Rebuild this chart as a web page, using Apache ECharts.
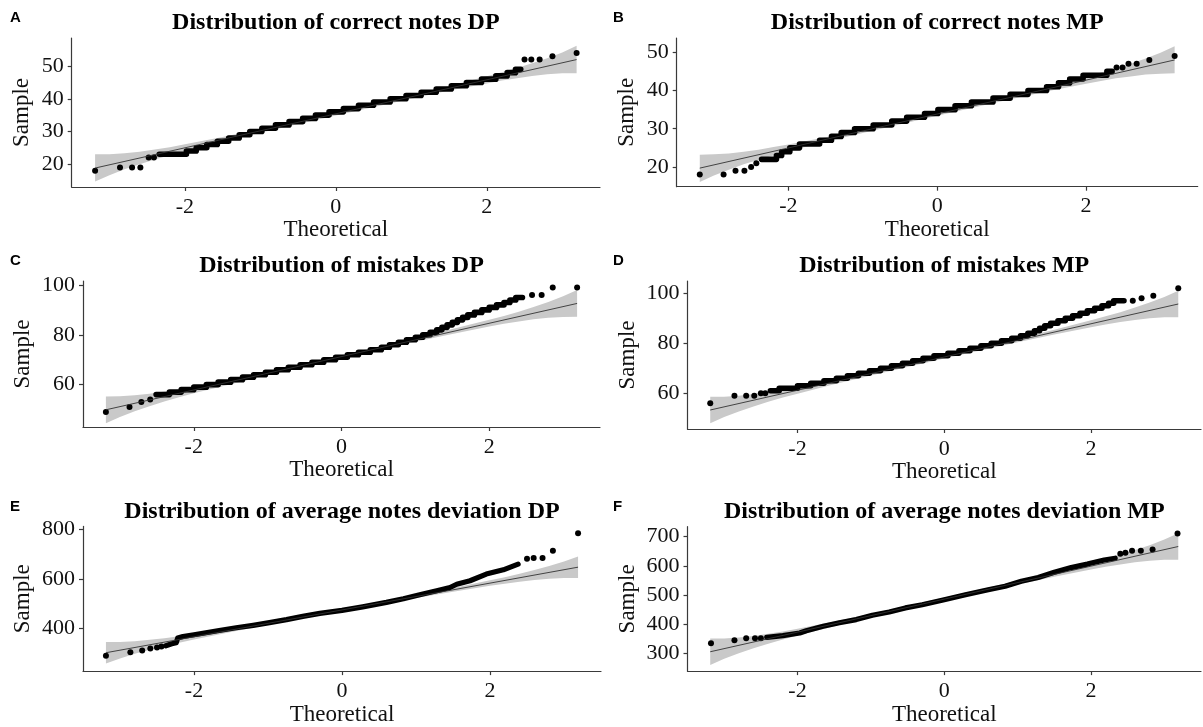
<!DOCTYPE html>
<html>
<head>
<meta charset="utf-8">
<title>Normal QQ plots</title>
<script src="https://cdn.jsdelivr.net/npm/echarts@6/dist/echarts.min.js"></script>
<style>
  html, body { margin: 0; padding: 0; background: #fff; }
  #chart { width: 1203px; height: 727px; }
</style>
</head>
<body>
<div id="chart"></div>
<script>
// ---------- data ----------
const xTicks = [-2, 0, 2];
const lineT = [-3.19, 3.19];
const bandT = [-3.19, -3.0, -2.8, -2.6, -2.4, -2.2, -2.0, -1.5, -1.0, 0, 1.0, 1.5, 2.0, 2.2, 2.4, 2.6, 2.8, 3.0, 3.19];

// A - correct notes DP
const ticksA = [20, 30, 40, 50];
const lineA = [18.8, 52.0];
const loA = [14.7, 16.6, 18.4, 20.0, 21.4, 22.7, 23.9, 26.9, 29.6, 34.9, 40.0, 42.5, 44.7, 45.6, 46.3, 47.0, 47.5, 47.8, 47.8];
const hiA = [23.0, 23.0, 23.3, 23.8, 24.5, 25.2, 26.1, 28.3, 30.8, 35.9, 41.2, 43.9, 46.9, 48.1, 49.4, 50.9, 52.4, 54.2, 56.2];
const stepsA = [[-2.34, 23], [-1.98, 24], [-1.85, 25], [-1.71, 26], [-1.57, 27], [-1.42, 28], [-1.28, 29], [-1.14, 30],
  [-0.98, 31], [-0.80, 32], [-0.62, 33], [-0.44, 34], [-0.27, 35], [-0.09, 36], [0.10, 37], [0.30, 38], [0.50, 39],
  [0.72, 40], [0.93, 41], [1.13, 42], [1.33, 43], [1.53, 44], [1.73, 45], [1.93, 46], [2.12, 47], [2.27, 48], [2.38, 49], [2.45, 49]];
const dotsA = [[-3.19, 18], [-2.86, 19], [-2.70, 19], [-2.59, 19], [-2.48, 22], [-2.41, 22],
  [2.50, 52], [2.59, 52], [2.70, 52], [2.87, 53], [3.19, 54]];

// B - correct notes MP
const ticksB = [20, 30, 40, 50];
const lineB = [19.7, 48.0];
const loB = [16.1, 17.8, 19.3, 20.7, 21.9, 23.0, 24.1, 26.6, 28.9, 33.4, 37.8, 39.9, 41.8, 42.5, 43.2, 43.7, 44.2, 44.4, 44.5];
const hiB = [23.2, 23.3, 23.5, 24.0, 24.5, 25.2, 25.9, 27.8, 29.9, 34.3, 38.8, 41.1, 43.6, 44.7, 45.8, 47.0, 48.4, 49.9, 51.6];
const stepsB = [[-2.36, 22], [-2.16, 23], [-2.09, 24], [-1.98, 25], [-1.85, 26], [-1.58, 27], [-1.42, 28], [-1.29, 29],
  [-1.11, 30], [-0.86, 31], [-0.61, 32], [-0.41, 33], [-0.17, 34], [0.01, 35], [0.24, 36], [0.46, 37], [0.75, 38],
  [0.98, 39], [1.22, 40], [1.47, 41], [1.63, 42], [1.78, 43], [1.96, 44], [2.28, 45], [2.35, 45]];
const dotsB = [[-3.19, 18], [-2.87, 18], [-2.71, 19], [-2.59, 19], [-2.50, 20], [-2.43, 21],
  [2.41, 46], [2.49, 46], [2.57, 47], [2.68, 47], [2.85, 48], [3.19, 49]];

// C - mistakes DP
const ticksC = [60, 80, 100];
const lineC = [49.9, 92.6];
const loC = [44.5, 47.0, 49.3, 51.3, 53.2, 54.9, 56.5, 60.2, 63.8, 70.6, 77.2, 80.3, 83.3, 84.4, 85.3, 86.2, 86.8, 87.2, 87.3];
const hiC = [55.2, 55.3, 55.7, 56.3, 57.2, 58.1, 59.2, 62.2, 65.3, 71.9, 78.7, 82.3, 86.0, 87.6, 89.3, 91.2, 93.2, 95.5, 98.0];
const stepsC = [[-2.51, 56], [-2.33, 57], [-2.17, 58], [-2.00, 59], [-1.83, 60], [-1.67, 61], [-1.50, 62], [-1.34, 63],
  [-1.19, 64], [-1.03, 65], [-0.88, 66], [-0.72, 67], [-0.56, 68], [-0.40, 69], [-0.24, 70], [-0.08, 71], [0.08, 72],
  [0.23, 73], [0.39, 74], [0.54, 75], [0.65, 76], [0.77, 77], [0.88, 78], [1.00, 79], [1.10, 80], [1.20, 81],
  [1.29, 82], [1.36, 83], [1.43, 84], [1.50, 85], [1.57, 86], [1.64, 87], [1.71, 88], [1.80, 89], [1.90, 90],
  [2.00, 91], [2.10, 92], [2.20, 93], [2.28, 94], [2.36, 95], [2.45, 95]];
const dotsC = [[-3.19, 49], [-2.87, 51], [-2.71, 53], [-2.59, 54],
  [2.58, 96], [2.71, 96], [2.86, 99], [3.19, 99]];

// D - mistakes MP
const ticksD = [60, 80, 100];
const lineD = [53.3, 95.7];
const loD = [48.0, 50.5, 52.7, 54.7, 56.6, 58.3, 59.8, 63.6, 67.1, 73.9, 80.4, 83.5, 86.4, 87.5, 88.5, 89.3, 90.0, 90.4, 90.4];
const hiD = [58.6, 58.6, 59.0, 59.7, 60.5, 61.5, 62.6, 65.5, 68.6, 75.1, 81.9, 85.4, 89.2, 90.8, 92.4, 94.3, 96.3, 98.5, 101.0];
const stepsD = [[-2.37, 61], [-2.25, 62], [-2.00, 63], [-1.82, 64], [-1.64, 65], [-1.47, 66], [-1.32, 67], [-1.17, 68],
  [-1.02, 69], [-0.87, 70], [-0.72, 71], [-0.57, 72], [-0.43, 73], [-0.29, 74], [-0.14, 75], [0.05, 76], [0.20, 77],
  [0.35, 78], [0.50, 79], [0.64, 80], [0.78, 81], [0.92, 82], [1.04, 83], [1.14, 84], [1.23, 85], [1.30, 86],
  [1.37, 87], [1.45, 88], [1.55, 89], [1.65, 90], [1.75, 91], [1.85, 92], [1.95, 93], [2.05, 94], [2.15, 95],
  [2.24, 96], [2.31, 97], [2.45, 97]];
const dotsD = [[-3.19, 56], [-2.86, 59], [-2.70, 59], [-2.59, 59], [-2.50, 60], [-2.44, 60],
  [2.57, 97], [2.69, 98], [2.85, 99], [3.19, 102]];

// E - average notes deviation DP
const ticksE = [400, 600, 800];
const lineE = [302.8, 646.6];
const loE = [259.7, 279.9, 298.3, 314.5, 329.3, 343.0, 355.9, 386.1, 414.8, 469.7, 522.6, 547.8, 571.5, 580.1, 588.0, 594.8, 600.1, 603.3, 603.5];
const hiE = [345.9, 346.1, 349.3, 354.6, 361.4, 369.3, 378.0, 401.6, 426.8, 479.7, 534.6, 563.3, 593.6, 606.4, 620.1, 634.9, 651.1, 669.5, 689.7];
const pathE = [[-2.38, 331], [-2.30, 339], [-2.24, 343], [-2.22, 362], [-2.15, 368], [-2.00, 375], [-1.88, 381],
  [-1.66, 392], [-1.43, 403], [-1.20, 413], [-0.98, 424], [-0.75, 436], [-0.53, 449], [-0.30, 461], [0, 473],
  [0.28, 487], [0.60, 505], [0.83, 520], [1.05, 536], [1.28, 552], [1.46, 565], [1.55, 578], [1.73, 592],
  [1.95, 619], [2.18, 636], [2.38, 659]];
const dotsE = [[-3.19, 291], [-2.86, 305], [-2.70, 312], [-2.59, 320], [-2.50, 324], [-2.44, 328],
  [2.50, 680], [2.59, 683], [2.71, 683], [2.85, 713], [3.19, 783]];

// F - average notes deviation MP
const ticksF = [300, 400, 500, 600, 700];
const lineF = [305.8, 666.2];
const loF = [260.6, 281.8, 301.1, 318.1, 333.6, 347.9, 361.4, 393.2, 423.2, 480.8, 536.2, 562.7, 587.4, 596.5, 604.8, 611.9, 617.5, 620.8, 621.0];
const hiF = [351.0, 351.2, 354.5, 360.1, 367.2, 375.5, 384.6, 409.3, 435.8, 491.3, 548.8, 578.8, 610.6, 624.1, 638.4, 653.9, 670.9, 690.2, 711.4];
const pathF = [[-2.42, 355], [-2.20, 361], [-1.97, 370], [-1.88, 378], [-1.65, 393], [-1.43, 405], [-1.20, 416],
  [-0.98, 431], [-0.75, 442], [-0.53, 456], [-0.30, 467], [0, 484], [0.29, 501], [0.60, 518], [0.83, 530],
  [1.05, 547], [1.28, 560], [1.50, 578], [1.73, 594], [1.95, 606], [2.18, 620], [2.33, 626]];
const dotsF = [[-3.18, 335], [-2.86, 345], [-2.70, 352], [-2.58, 352], [-2.50, 352],
  [2.40, 641], [2.47, 645], [2.56, 652], [2.68, 652], [2.84, 656], [3.18, 711]];

// ---------- layout ----------
const SERIF = '"Liberation Serif", "Times New Roman", serif';
const panels = [
  { tag: 'A', title: 'Distribution of correct notes DP', grid: { left: 71.7, top: 38, width: 528.3, height: 149 },
    yMin: 13.0, yMax: 58.6, ticks: ticksA, nameGap: 38, line: lineA, lo: loA, hi: hiA, band: stepsA, step: true, dots: dotsA },
  { tag: 'B', title: 'Distribution of correct notes MP', grid: { left: 676.7, top: 38, width: 521, height: 148.7 },
    yMin: 14.84, yMax: 53.74, ticks: ticksB, nameGap: 38, line: lineB, lo: loB, hi: hiB, band: stepsB, step: true, dots: dotsB },
  { tag: 'C', title: 'Distribution of mistakes DP', grid: { left: 83, top: 281, width: 517, height: 146 },
    yMin: 43.0, yMax: 101.6, ticks: ticksC, nameGap: 49, line: lineC, lo: loC, hi: hiC, band: stepsC, step: true, dots: dotsC },
  { tag: 'D', title: 'Distribution of mistakes MP', grid: { left: 687.5, top: 281, width: 513.5, height: 148 },
    yMin: 45.7, yMax: 104.9, ticks: ticksD, nameGap: 48, line: lineD, lo: loD, hi: hiD, band: stepsD, step: true, dots: dotsD },
  { tag: 'E', title: 'Distribution of average notes deviation DP', grid: { left: 83, top: 526.4, width: 518, height: 145.3 },
    yMin: 229, yMax: 810.4, ticks: ticksE, nameGap: 49, line: lineE, lo: loE, hi: hiE, band: pathE, step: false, dots: dotsE },
  { tag: 'F', title: 'Distribution of average notes deviation MP', grid: { left: 687.5, top: 526.7, width: 513.5, height: 145 },
    yMin: 239.6, yMax: 734, ticks: ticksF, nameGap: 48, line: lineF, lo: loF, hi: hiF, band: pathF, step: false, dots: dotsF }
];

const axisLineStyle = { color: '#3a3a3a', width: 1.2 };

const option = {
  backgroundColor: '#ffffff',
  animation: false,
  grid: [],
  xAxis: [],
  yAxis: [],
  series: [],
  graphic: []
};

panels.forEach((p, i) => {
  option.grid.push(p.grid);
  option.xAxis.push({
    type: 'value', gridIndex: i, min: -3.5, max: 3.5,
    name: 'Theoretical', nameLocation: 'middle', nameGap: 30,
    nameTextStyle: { fontFamily: SERIF, fontSize: 23, color: '#111' },
    axisLine: { show: true, onZero: false, lineStyle: axisLineStyle },
    axisTick: { show: true, length: 4, lineStyle: axisLineStyle, customValues: xTicks },
    axisLabel: { fontFamily: SERIF, fontSize: 22, color: '#111', margin: 9, customValues: xTicks },
    splitLine: { show: false }
  });
  option.yAxis.push({
    type: 'value', gridIndex: i, min: p.yMin, max: p.yMax,
    name: 'Sample', nameLocation: 'middle', nameGap: p.nameGap,
    nameTextStyle: { fontFamily: SERIF, fontSize: 23, color: '#111' },
    axisLine: { show: true, onZero: false, lineStyle: axisLineStyle },
    axisTick: { show: true, length: 4, lineStyle: axisLineStyle, customValues: p.ticks },
    axisLabel: { fontFamily: SERIF, fontSize: 22, color: '#111', margin: 8, customValues: p.ticks },
    splitLine: { show: false }
  });

  // confidence ribbon
  const lo = p.lo, hi = p.hi;
  option.series.push({
    type: 'custom', xAxisIndex: i, yAxisIndex: i, z: 1, silent: true,
    data: bandT.map((t, k) => [t, lo[k], hi[k]]),
    encode: { x: 0, y: [1, 2] },
    renderItem: function (params, api) {
      if (params.dataIndex !== 0) return null;
      const pts = [];
      for (let k = 0; k < bandT.length; k++) pts.push(api.coord([bandT[k], hi[k]]));
      for (let k = bandT.length - 1; k >= 0; k--) pts.push(api.coord([bandT[k], lo[k]]));
      return { type: 'polygon', shape: { points: pts }, style: { fill: '#c9c9c9' } };
    }
  });

  // dense run of sample points
  option.series.push({
    type: 'line', xAxisIndex: i, yAxisIndex: i, z: 3, silent: true,
    data: p.band, step: p.step ? 'end' : false, symbol: 'none',
    lineStyle: { color: '#000', width: p.step ? 5.6 : 5.2, cap: 'round', join: 'round', opacity: 1 }
  });

  // sparse tail points
  option.series.push({
    type: 'scatter', xAxisIndex: i, yAxisIndex: i, z: 3, silent: true,
    data: p.dots, symbolSize: 6, itemStyle: { color: '#000', opacity: 1 }
  });

  // reference line
  option.series.push({
    type: 'line', xAxisIndex: i, yAxisIndex: i, z: 5, silent: true,
    data: [[lineT[0], p.line[0]], [lineT[1], p.line[1]]], symbol: 'none',
    lineStyle: { color: '#333', width: 0.9 }
  });

  // panel title and tag letter
  const cx = p.grid.left + p.grid.width / 2;
  option.graphic.push({
    type: 'text', x: cx, y: p.grid.top - 15, z: 10,
    style: { text: p.title, font: 'bold 24px ' + SERIF, fill: '#000',
      align: 'center', verticalAlign: 'middle', textAlign: 'center', textVerticalAlign: 'middle' }
  });
  option.graphic.push({
    type: 'text', x: i % 2 === 0 ? 10 : 613, y: p.grid.top - 20, z: 10,
    style: { text: p.tag, font: 'bold 15px "Liberation Sans", Arial, sans-serif', fill: '#000',
      align: 'left', verticalAlign: 'middle', textAlign: 'left', textVerticalAlign: 'middle' }
  });
});

const chart = echarts.init(document.getElementById('chart'));
chart.setOption(option);
window.addEventListener('resize', () => chart.resize());
</script>
</body>
</html>
